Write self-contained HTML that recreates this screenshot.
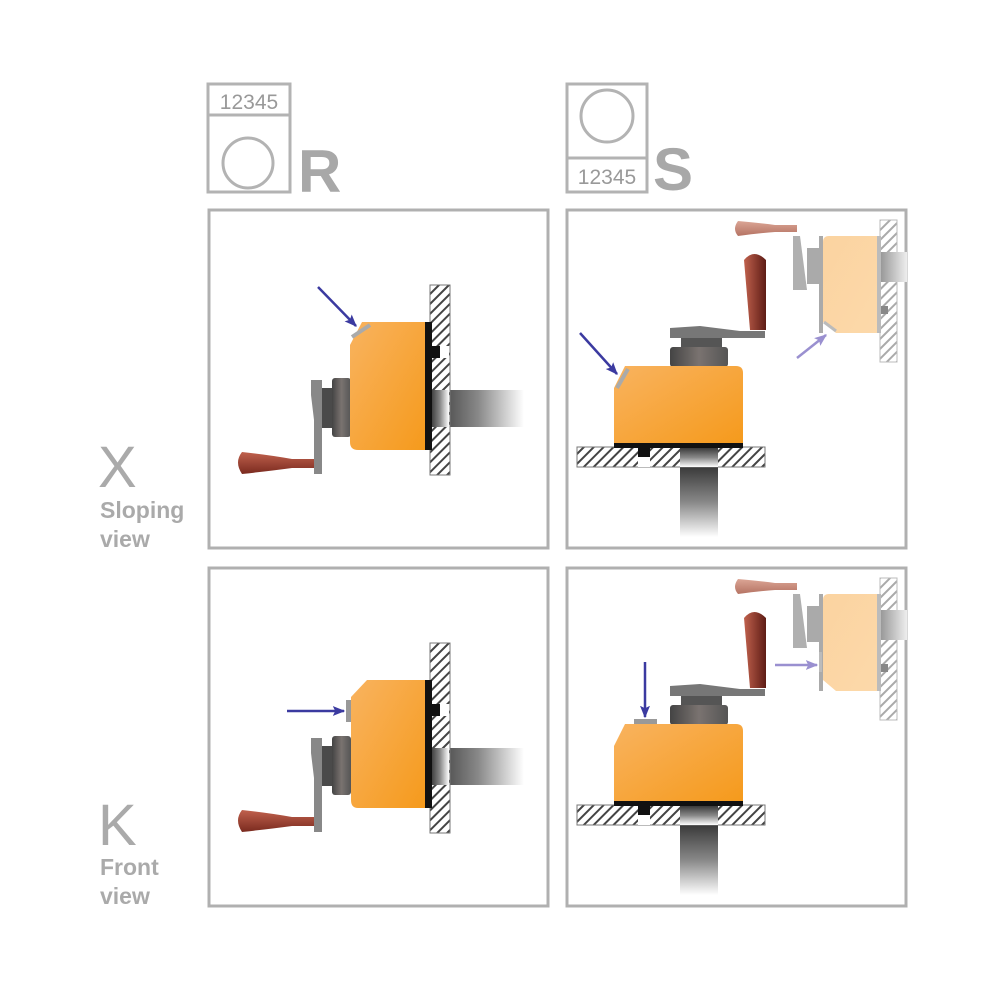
<!DOCTYPE html>
<html><head><meta charset="utf-8"><style>
html,body{margin:0;padding:0;background:#fff;}
svg{display:block;}
</style></head><body>
<svg width="1000" height="1000" viewBox="0 0 1000 1000" xmlns="http://www.w3.org/2000/svg" font-family="Liberation Sans, sans-serif">
<defs>
<pattern id="hatch" width="7" height="7" patternUnits="userSpaceOnUse" patternTransform="rotate(45)">
<rect width="7" height="7" fill="#fff"/><rect width="2" height="7" fill="#444"/></pattern>
<pattern id="hatchL" width="7" height="7" patternUnits="userSpaceOnUse" patternTransform="rotate(45)">
<rect width="7" height="7" fill="#fff"/><rect width="2" height="7" fill="#aaa"/></pattern>
<linearGradient id="shaftH" x1="0" x2="1" y1="0" y2="0"><stop offset="0" stop-color="#3a3a3a"/><stop offset="0.5" stop-color="#888"/><stop offset="1" stop-color="#fff"/></linearGradient>
<linearGradient id="shaftV" x1="0" x2="0" y1="0" y2="1"><stop offset="0" stop-color="#3a3a3a"/><stop offset="0.5" stop-color="#888"/><stop offset="1" stop-color="#fff"/></linearGradient>
<linearGradient id="shaftHL" x1="0" x2="1"><stop offset="0" stop-color="#999"/><stop offset="1" stop-color="#eee"/></linearGradient>
<linearGradient id="orange" x1="0" x2="1" y1="0" y2="1"><stop offset="0" stop-color="#f9b35f"/><stop offset="1" stop-color="#f59a1c"/></linearGradient>
<linearGradient id="orangeL" x1="0" x2="1" y1="0" y2="1"><stop offset="0" stop-color="#fbd3a0"/><stop offset="1" stop-color="#fcd9aa"/></linearGradient>
<linearGradient id="handleH" x1="0" x2="0" y1="0" y2="1"><stop offset="0" stop-color="#c0614d"/><stop offset="1" stop-color="#7a2a1f"/></linearGradient>
<linearGradient id="handleV" x1="0" x2="1"><stop offset="0" stop-color="#c0614d"/><stop offset="1" stop-color="#5e1c15"/></linearGradient>
<linearGradient id="handleL" x1="0" x2="0" y1="0" y2="1"><stop offset="0" stop-color="#dba595"/><stop offset="1" stop-color="#b57363"/></linearGradient>
<linearGradient id="ring" x1="0" x2="1"><stop offset="0" stop-color="#444"/><stop offset="0.5" stop-color="#7a7370"/><stop offset="1" stop-color="#555"/></linearGradient>
<marker id="ah" viewBox="0 0 10 10" refX="9" refY="5" markerWidth="5" markerHeight="5" orient="auto"><path d="M0,1 L10,5 L0,9 L2,5 z" fill="#3b3aa0"/></marker>
<marker id="ahL" viewBox="0 0 10 10" refX="9" refY="5" markerWidth="5" markerHeight="5" orient="auto"><path d="M0,1 L10,5 L0,9 L2,5 z" fill="#9a90d0"/></marker>

<g id="left">
<rect x="432" y="390" width="92" height="37" fill="url(#shaftH)"/>
<rect x="430" y="285" width="20" height="190" fill="url(#hatch)" stroke="#777" stroke-width="1"/>
<rect x="431" y="390" width="18" height="37" fill="url(#shaftH)"/>
<rect x="430" y="346" width="10" height="12" fill="#111"/>
<rect x="440" y="346" width="9" height="12" fill="#fff"/>
<rect x="425" y="322" width="7" height="128" fill="#111"/>
<rect x="322" y="388" width="14" height="40" fill="#4a4a4a"/>
<rect x="332" y="378" width="19" height="59" rx="3" fill="url(#ring)"/>
<path d="M311,380 L322,380 L322,474 L314,474 L314,420 L311,395 z" fill="#888"/>
<path d="M314,459 L292,459 Q270,455 242,452 Q234,462 242,474 Q270,471 292,468 L314,468 z" fill="url(#handleH)"/>
</g>

<g id="right">
<rect x="680" y="467" width="38" height="70" fill="url(#shaftV)"/>
<rect x="577" y="447" width="188" height="20" fill="url(#hatch)" stroke="#777" stroke-width="1"/>
<rect x="680" y="448" width="38" height="19" fill="url(#shaftV)"/>
<rect x="638" y="447" width="12" height="10" fill="#111"/>
<rect x="638" y="457" width="12" height="10" fill="#fff"/>
<rect x="614" y="442" width="129" height="6" fill="#111"/>
<rect x="681" y="336" width="41" height="13" fill="#555"/>
<rect x="670" y="347" width="58" height="20" rx="3" fill="url(#ring)"/>
<path d="M670,328 L700,326 L740,331 L765,331 L765,338 L670,338 z" fill="#777"/>
<path d="M744,260 Q754,248 766,260 L766,330 L750,330 z" fill="url(#handleV)"/>
<!-- inset faded -->
<rect x="880" y="252" width="27" height="30" fill="url(#shaftHL)"/>
<rect x="880" y="220" width="17" height="142" fill="url(#hatchL)" stroke="#bbb" stroke-width="1"/>
<rect x="881" y="252" width="26" height="30" fill="url(#shaftHL)"/>
<rect x="880" y="306" width="8" height="8" fill="#888"/>
<rect x="819" y="236" width="4" height="97" fill="#aaa"/>
<path d="M826,236 L878,236 L878,333 L836,333 L823,322 L823,242 Q823,236 829,236 z" fill="url(#orangeL)"/>
<rect x="877" y="236" width="4" height="97" fill="#bbb"/>
<rect x="807" y="248" width="15" height="36" fill="#aaa"/>
<path d="M793,236 L800,236 L807,290 L793,290 z" fill="#b0b0b0"/>
<path d="M738,221 Q732,229 738,236 Q760,233 775,232 L797,232 L797,225 L775,225 Q760,223 738,221 z" fill="url(#handleL)"/>
</g>
</defs>

<g fill="none" stroke="#b3b3b3" stroke-width="3">
<rect x="208" y="84" width="82" height="108"/>
<line x1="208" y1="115" x2="290" y2="115"/>
<circle cx="248" cy="163" r="25"/>
<rect x="567" y="84" width="80" height="108"/>
<line x1="567" y1="158" x2="647" y2="158"/>
<circle cx="607" cy="116" r="26"/>
</g>
<text x="249" y="109" font-size="21" fill="#999" text-anchor="middle">12345</text>
<text x="607" y="184" font-size="21" fill="#999" text-anchor="middle">12345</text>
<text x="298" y="192" font-size="60" font-weight="bold" fill="#a8a8a8">R</text>
<text x="653" y="190" font-size="60" font-weight="bold" fill="#a8a8a8">S</text>

<text x="98" y="487" font-size="58" fill="#aaa">X</text>
<text x="100" y="518" font-size="23" font-weight="bold" fill="#aaa">Sloping</text>
<text x="100" y="547" font-size="23" font-weight="bold" fill="#aaa">view</text>
<text x="98" y="845" font-size="58" fill="#aaa">K</text>
<text x="100" y="875" font-size="23" font-weight="bold" fill="#aaa">Front</text>
<text x="100" y="904" font-size="23" font-weight="bold" fill="#aaa">view</text>

<g fill="none" stroke="#b0b0b0" stroke-width="3">
<rect x="209" y="210" width="339" height="338"/>
<rect x="567" y="210" width="339" height="338"/>
<rect x="209" y="568" width="339" height="338"/>
<rect x="567" y="568" width="339" height="338"/>
</g>

<use href="#left"/>
<path d="M362,322 L425,322 L425,450 L358,450 Q350,450 350,442 L350,345 z" fill="url(#orange)"/>
<line x1="352" y1="337" x2="370" y2="325" stroke="#aaa" stroke-width="4"/>
<line x1="318" y1="287" x2="356" y2="326" stroke="#3b3aa0" stroke-width="2.5" marker-end="url(#ah)"/>

<g transform="translate(0,358)"><use href="#left"/></g>
<path d="M367,680 L425,680 L425,808 L358,808 Q351,808 351,800 L351,697 z" fill="url(#orange)"/>
<rect x="346" y="700" width="5" height="22" fill="#999"/>
<line x1="287" y1="711" x2="344" y2="711" stroke="#3b3aa0" stroke-width="2.5" marker-end="url(#ah)"/>

<use href="#right"/>
<path d="M625,366 L736,366 Q743,366 743,373 L743,443 L614,443 L614,388 z" fill="url(#orange)"/>
<line x1="617" y1="388" x2="628" y2="369" stroke="#aaa" stroke-width="4"/>
<line x1="580" y1="333" x2="617" y2="374" stroke="#3b3aa0" stroke-width="2.5" marker-end="url(#ah)"/>
<line x1="824" y1="322" x2="836" y2="331" stroke="#bbb" stroke-width="3"/>
<line x1="797" y1="358" x2="826" y2="335" stroke="#9a90d0" stroke-width="2.5" marker-end="url(#ahL)"/>

<g transform="translate(0,358)"><use href="#right"/></g>
<path d="M625,724 L736,724 Q743,724 743,731 L743,801 L614,801 L614,746 z" fill="url(#orange)"/>
<rect x="634" y="719" width="23" height="5" fill="#999"/>
<line x1="645" y1="662" x2="645" y2="717" stroke="#3b3aa0" stroke-width="2.5" marker-end="url(#ah)"/>
<rect x="819" y="652" width="3" height="20" fill="#bbb"/>
<line x1="775" y1="665" x2="817" y2="665" stroke="#9a90d0" stroke-width="2.5" marker-end="url(#ahL)"/>
</svg>
</body></html>
